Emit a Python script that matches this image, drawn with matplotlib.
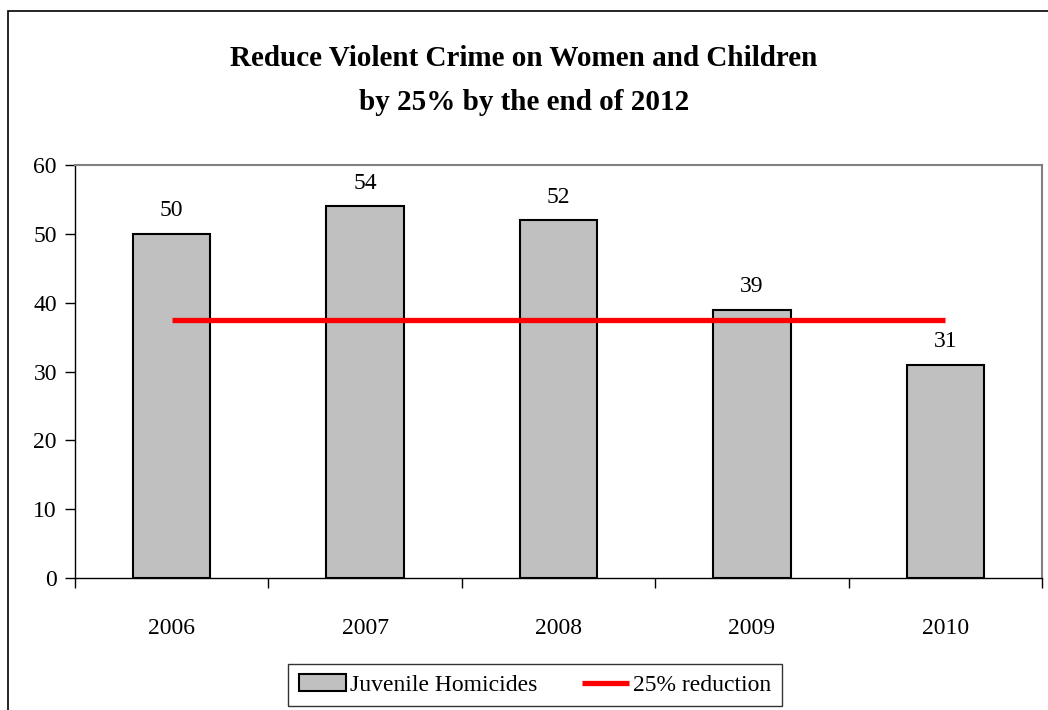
import matplotlib.pyplot as plt
from matplotlib.patches import Rectangle

plt.rcParams['font.family'] = ['Liberation Serif', 'DejaVu Serif']

# chart data
years = ['2006', '2007', '2008', '2009', '2010']
homicides = [50, 54, 52, 39, 31]
target = [37.5, 37.5, 37.5, 37.5, 37.5]

fig = plt.figure(figsize=(10.48, 7.1), dpi=100)
# outer chart border (only left/top visible in the original)
fig.patches.append(Rectangle((8 / 1048, -0.1), 1.2, 1.1 - 11 / 710,
                             transform=fig.transFigure, fill=False,
                             edgecolor='black', linewidth=1.2))

ax = fig.add_axes([75 / 1048, 1 - 578 / 710, (1042 - 75) / 1048, (578 - 165) / 710])

x = list(range(len(years)))
bars = ax.bar(x, homicides, width=0.4, color='#C0C0C0', edgecolor='black',
              linewidth=1.5, label='Juvenile Homicides', zorder=2)
line, = ax.plot(x, target, color='#FF0000', linewidth=3.8, label='25% reduction',
                solid_capstyle='butt', zorder=3)

for xi, v in zip(x, homicides):
    ax.annotate(str(v), (xi, v), xytext=(0, 9), textcoords='offset points',
                ha='center', va='bottom', fontsize=17)

ax.set_xlim(-0.5, len(years) - 0.5)
ax.set_ylim(0, 60)
ax.set_yticks(range(0, 61, 10))
ax.set_xticks(x)
ax.set_xticklabels(years)
ax.set_xticks([i + 0.5 for i in range(-1, len(years))], minor=True)
ax.tick_params(axis='x', which='major', length=0, pad=29, labelsize=17)
ax.tick_params(axis='x', which='minor', length=7, direction='out', width=1)
ax.tick_params(axis='y', length=7, direction='out', width=1, labelsize=17, pad=6)

for side in ('top', 'right'):
    ax.spines[side].set_color('#808080')
    ax.spines[side].set_linewidth(1.5)
for side in ('left', 'bottom'):
    ax.spines[side].set_color('black')
    ax.spines[side].set_linewidth(1)

fig.text(0.5, 1 - 58 / 710, 'Reduce Violent Crime on Women and Children',
         ha='center', va='center', fontsize=21, fontweight='bold')
fig.text(0.5, 1 - 103 / 710, 'by 25% by the end of 2012',
         ha='center', va='center', fontsize=21, fontweight='bold')

leg = fig.legend([bars, line], ['Juvenile Homicides', '25% reduction'],
                 loc='center', bbox_to_anchor=(535 / 1048, 1 - 685 / 710),
                 ncol=2, fontsize=17, frameon=True, fancybox=False,
                 edgecolor='black', handlelength=2.0, handletextpad=0.15,
                 columnspacing=1.9, borderpad=0.45)
leg.get_frame().set_linewidth(1)

fig.savefig('out.png', dpi=100)
